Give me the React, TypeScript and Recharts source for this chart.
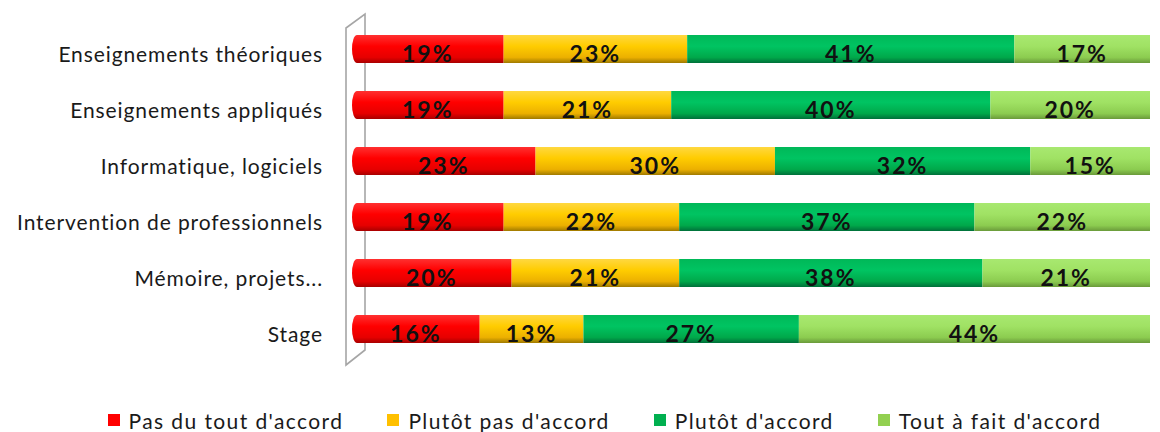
import React from "react";
import { BarChart, Bar, XAxis, YAxis, Legend, LabelList } from "recharts";

const categories = [
  "Enseignements théoriques",
  "Enseignements appliqués",
  "Informatique, logiciels",
  "Intervention de professionnels",
  "Mémoire, projets...",
  "Stage",
];
const pasDuTout = [19, 19, 23, 19, 20, 16];
const plutotPas = [23, 21, 30, 22, 21, 13];
const plutotAccord = [41, 40, 32, 37, 38, 27];
const toutAFait = [17, 20, 15, 22, 21, 44];

const seriesNames = [
  "Pas du tout d'accord",
  "Plutôt pas d'accord",
  "Plutôt d'accord",
  "Tout à fait d'accord",
];
const seriesKeys = ["s1", "s2", "s3", "s4"];
const seriesColors = ["#FF0000", "#FFC000", "#00B050", "#92D050"];
const gradientStops = [
  ["#ff3030", "#ff0000", "#e60000", "#a80000"],
  ["#ffd840", "#ffcc00", "#ecb000", "#a07a00"],
  ["#00b858", "#00c462", "#00a84a", "#00703a"],
  ["#a8e870", "#a0e264", "#8ccc50", "#6a9a3a"],
];

const data = categories.map((c, i) => ({
  name: c,
  s1: pasDuTout[i],
  s2: plutotPas[i],
  s3: plutotAccord[i],
  s4: toutAFait[i],
}));

const W = 1160;
const H = 432;
const M = { top: 21, right: 10, left: 0, bottom: 45 };
const YW = 352;
const FONT = "Lato, 'Open Sans', sans-serif";

const CapShape = (props: any) => {
  const { x, y, width, height, fill } = props;
  const rx = 5;
  const d = `M${x + rx},${y} H${x + width} V${y + height} H${x + rx} A${rx},${height / 2} 0 0 1 ${x + rx},${y} Z`;
  return <path d={d} fill={fill} />;
};

const PlainShape = (props: any) => {
  const { x, y, width, height, fill } = props;
  return <rect x={x} y={y} width={width} height={height} fill={fill} />;
};

const renderLegend = () => (
  <div
    style={{
      display: "flex",
      justifyContent: "center",
      alignItems: "center",
      gap: 44,
      height: 30,
      fontFamily: FONT,
      fontSize: 21,
      letterSpacing: 1.4,
      color: "#1a1a1a",
      paddingLeft: 49,
    }}
  >
    {seriesNames.map((n, i) => (
      <div key={n} style={{ display: "flex", alignItems: "center" }}>
        <span
          style={{
            display: "inline-block",
            width: 12,
            height: 12,
            background: seriesColors[i],
            marginRight: 9,
          }}
        />
        <span>{n}</span>
      </div>
    ))}
  </div>
);

export default function App() {
  return (
    <div style={{ position: "absolute", left: 0, top: 0, width: W, height: H, background: "#fff" }}>
      <svg width={W} height={H} style={{ position: "absolute", left: 0, top: 0 }}>
        <polygon
          points={`346,28 365,14 365,350 346,365`}
          fill="none"
          stroke="#a6a6a6"
          strokeWidth={1.6}
        />
      </svg>
      <div style={{ position: "absolute", left: 0, top: 0 }}>
        <BarChart width={W} height={H} data={data} layout="vertical" margin={M} barSize={28}>
          <defs>
            {seriesKeys.map((k, i) => (
              <linearGradient key={k} id={`g${k}`} x1="0" y1="0" x2="0" y2="1">
                <stop offset="0%" stopColor={gradientStops[i][0]} />
                <stop offset="40%" stopColor={gradientStops[i][1]} />
                <stop offset="80%" stopColor={gradientStops[i][2]} />
                <stop offset="100%" stopColor={gradientStops[i][3]} />
              </linearGradient>
            ))}
          </defs>
          <XAxis type="number" domain={[0, 100]} hide />
          <YAxis
            type="category"
            dataKey="name"
            width={YW}
            axisLine={false}
            tickLine={false}
            tickSize={0}
            tickMargin={29}
            tick={{ fill: "#1a1a1a", fontSize: 21, fontFamily: FONT, letterSpacing: 0.9, dy: 6 }}
          />
          <Legend
            verticalAlign="bottom"
            content={renderLegend}
            wrapperStyle={{ top: 405, bottom: "auto", left: 0, width: W, height: 30 }}
          />
          {seriesKeys.map((k, i) => (
            <Bar
              key={k}
              dataKey={k}
              name={seriesNames[i]}
              stackId="a"
              fill={`url(#g${k})`}
              isAnimationActive={false}
              shape={i === 0 ? CapShape : PlainShape}
            >
              <LabelList
                dataKey={k}
                position="center"
                formatter={(v: any) => `${v}%`}
                dy={5}
                style={{ fill: "#111", fontSize: 23, fontWeight: 700, fontFamily: FONT, letterSpacing: 2 }}
              />
            </Bar>
          ))}
        </BarChart>
      </div>
    </div>
  );
}
